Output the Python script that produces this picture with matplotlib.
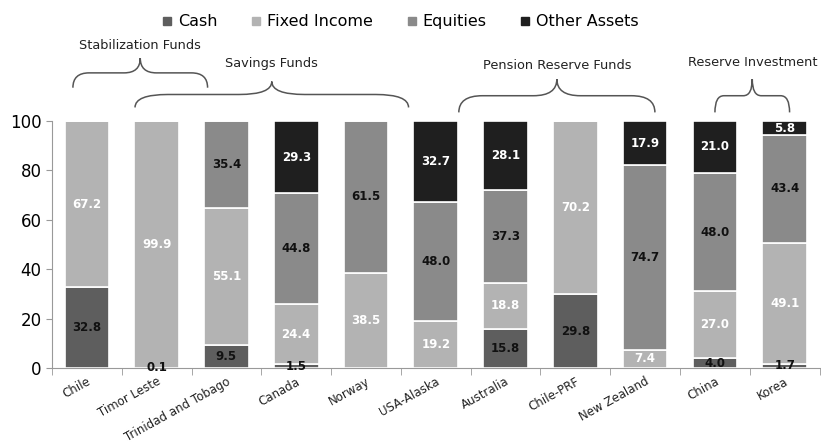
import matplotlib.pyplot as plt
from matplotlib.path import Path
from matplotlib.patches import PathPatch
from matplotlib.lines import Line2D

# 数据
funds = ["Chile", "Timor Leste", "Trinidad and Tobago", "Canada", "Norway",
         "USA-Alaska", "Australia", "Chile-PRF", "New Zealand", "China", "Korea"]
cash = [32.8, 0.1, 9.5, 1.5, 0.0, 0.0, 15.8, 29.8, 0.0, 4.0, 1.7]
fixed_income = [67.2, 99.9, 55.1, 24.4, 38.5, 19.2, 18.8, 70.2, 7.4, 27.0, 49.1]
equities = [0.0, 0.0, 35.4, 44.8, 61.5, 48.0, 37.3, 0.0, 74.7, 48.0, 43.4]
other_assets = [0.0, 0.0, 0.0, 29.3, 0.0, 32.7, 28.1, 0.0, 17.9, 21.0, 5.8]

series_names = ["Cash", "Fixed Income", "Equities", "Other Assets"]
series_colors = ["#5e5e5e", "#b3b3b3", "#8a8a8a", "#1f1f1f"]
label_colors = ["#111111", "white", "#111111", "white"]

# 分组括号：(名称, 起点, 终点, 括号底, 括号尖, 文字位置)，x 以类别序号表示
groups = [("Stabilization Funds", -0.2, 1.73, 113.5, 125.5, 128),
          ("Savings Funds", 0.69, 4.61, 105.5, 116, 120.5),
          ("Pension Reserve Funds", 5.33, 8.14, 103.5, 117, 120),
          ("Reserve Investment", 9.0, 10.07, 103.5, 117, 121)]


def draw_brace(ax, x0, x1, yb, yt):
    xc = (x0 + x1) / 2
    ym = (yb + yt) / 2
    r = (x1 - x0) * 0.12
    verts = [(x0, yb), (x0, ym), (x0 + r, ym), (x0 + r, ym),
             (xc - r, ym), (xc, ym), (xc, yt),
             (xc, ym), (xc + r, ym), (x1 - r, ym),
             (x1 - r, ym), (x1, ym), (x1, yb)]
    codes = [Path.MOVETO, Path.CURVE3, Path.CURVE3, Path.LINETO,
             Path.LINETO, Path.CURVE3, Path.CURVE3,
             Path.CURVE3, Path.CURVE3, Path.LINETO,
             Path.LINETO, Path.CURVE3, Path.CURVE3]
    patch = PathPatch(Path(verts, codes), facecolor="none", edgecolor="#555555",
                      lw=1.1, clip_on=False)
    ax.add_patch(patch)


fig = plt.figure(figsize=(8.21, 4.45), dpi=100)
ax = fig.add_axes([0.0633, 0.173, 0.935, 0.555])

x = list(range(len(funds)))
bottom = [0.0] * len(funds)
for vals, name, col, lcol in zip([cash, fixed_income, equities, other_assets],
                                 series_names, series_colors, label_colors):
    ax.bar(x, vals, bottom=bottom, width=0.64, color=col, edgecolor="white",
           linewidth=1.2, label=name)
    for i, v in enumerate(vals):
        if v > 0:
            ax.text(i, bottom[i] + v / 2, f"{v:.1f}", ha="center", va="center",
                    fontsize=8.5, fontweight="bold", color=lcol)
    bottom = [b + v for b, v in zip(bottom, vals)]

ax.set_xlim(-0.5, 10.4)
ax.set_ylim(0, 100)
ax.set_yticks([0, 20, 40, 60, 80, 100])
ax.tick_params(axis="y", labelsize=12, length=4, color="#999999")
ax.set_xticks([i + 0.5 for i in range(-1, len(funds))], minor=True)
ax.set_xticks(x)
ax.set_xticklabels(funds, rotation=29, ha="right", rotation_mode="anchor",
                   fontsize=8.5, color="#222222")
ax.tick_params(axis="x", which="major", length=0, pad=5)
ax.tick_params(axis="x", which="minor", length=5, color="#999999")
for s in ["top", "right"]:
    ax.spines[s].set_visible(False)
ax.spines["left"].set_color("#999999")
ax.spines["bottom"].set_color("#999999")

for name, x0, x1, yb, yt, ytxt in groups:
    draw_brace(ax, x0, x1, yb, yt)
    ax.text((x0 + x1) / 2, ytxt, name, ha="center", va="bottom",
            fontsize=9.3, color="#222222", clip_on=False)

handles = [Line2D([], [], marker="s", linestyle="none", markersize=6,
                  markerfacecolor=c, markeredgecolor=c) for c in series_colors]
fig.legend(handles, series_names, loc="upper center", bbox_to_anchor=(0.487, 1.0),
           ncol=4, frameon=False, fontsize=11.5, handlelength=0.8,
           handletextpad=0.3, columnspacing=2.0)

fig.savefig("out.png", dpi=100)
